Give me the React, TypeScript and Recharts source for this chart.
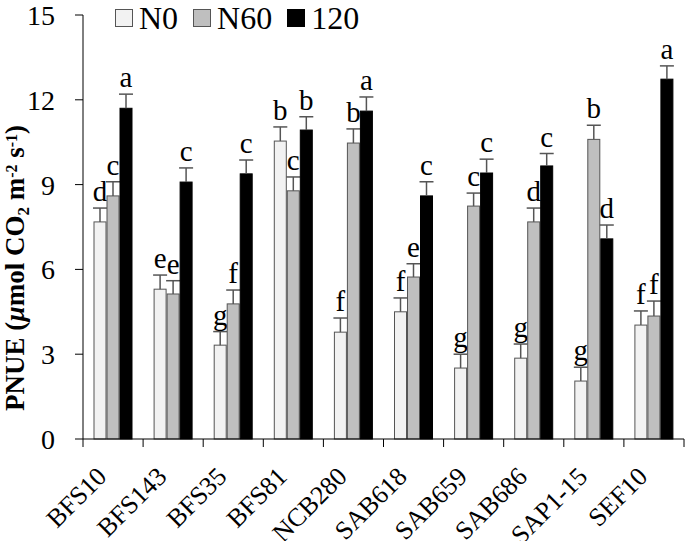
import { BarChart, Bar, XAxis, YAxis, Text } from "recharts";

const categories = ["BFS10", "BFS143", "BFS35", "BFS81", "NCB280", "SAB618", "SAB659", "SAB686", "SAP1-15", "SEF10"];

const n0 = [7.68, 5.3, 3.32, 10.54, 3.78, 4.5, 2.51, 2.86, 2.05, 4.03];
const n60 = [8.6, 5.13, 4.78, 8.78, 10.47, 5.73, 8.24, 7.68, 10.6, 4.35];
const n120 = [11.7, 9.09, 9.38, 10.93, 11.6, 8.6, 9.41, 9.66, 7.08, 12.73];

const n0Err = [0.49, 0.5, 0.48, 0.5, 0.5, 0.49, 0.49, 0.5, 0.49, 0.5];
const n60Err = [0.5, 0.47, 0.49, 0.49, 0.5, 0.47, 0.46, 0.49, 0.5, 0.53];
const n120Err = [0.5, 0.5, 0.49, 0.47, 0.5, 0.5, 0.49, 0.44, 0.49, 0.47];

const n0Letters = ["d", "e", "g", "b", "f", "f", "g", "g", "g", "f"];
const n60Letters = ["c", "e", "f", "c", "b", "e", "c", "d", "b", "f"];
const n120Letters = ["a", "c", "c", "b", "a", "c", "c", "c", "d", "a"];

const yTicks = [0, 3, 6, 9, 12, 15];

const data = categories.map((name, i) => ({
  name,
  n0: n0[i],
  n60: n60[i],
  n120: n120[i],
  n0Err: n0Err[i],
  n60Err: n60Err[i],
  n120Err: n120Err[i],
  n0L: n0Letters[i],
  n60L: n60Letters[i],
  n120L: n120Letters[i],
}));

const FONT = "Liberation Serif, Times New Roman, serif";
const W = 685;
const H = 541;
const LEFT = 83;
const RIGHT = 1;
const TOP = 15;
const BOTTOM = 102;
const BAND = (W - LEFT - RIGHT) / categories.length;
const AXIS_Y = H - BOTTOM;

const series = [
  { key: "n0", name: "N0", fill: "#f2f2f2", stroke: "#555" },
  { key: "n60", name: "N60", fill: "#bfbfbf", stroke: "#555" },
  { key: "n120", name: "120", fill: "#000", stroke: "#000" },
];

const makeShape = (valKey: string, fill: string, stroke: string) => (props: any) => {
  const { x, y, width, height, payload } = props;
  const v = payload[valKey];
  const k = v ? height / v : 0;
  const top = y - payload[valKey + "Err"] * k;
  const cx = x + width / 2;
  return (
    <g>
      <rect x={x} y={y} width={width} height={height} fill={fill} stroke={stroke} strokeWidth={1} />
      <line x1={cx} x2={cx} y1={y} y2={top} stroke="#555" strokeWidth={1.5} />
      <line x1={cx - 7} x2={cx + 7} y1={top} y2={top} stroke="#555" strokeWidth={1.5} />
      <text x={cx} y={top - 7} textAnchor="middle" fontSize={29} fontFamily={FONT} fill="#000">
        {payload[valKey + "L"]}
      </text>
    </g>
  );
};

const XTick = (props: any) => {
  const { x, payload, index } = props;
  const last = index === categories.length - 1;
  return (
    <g>
      <line x1={x - BAND / 2} x2={x - BAND / 2} y1={AXIS_Y} y2={AXIS_Y + 8} stroke="#000" strokeWidth={1} />
      {last && <line x1={x + BAND / 2} x2={x + BAND / 2} y1={AXIS_Y} y2={AXIS_Y + 8} stroke="#000" strokeWidth={1} />}
      <Text
        x={x - 5}
        y={AXIS_Y + 39}
        angle={-45}
        textAnchor="end"
        verticalAnchor="end"
        fontSize={26}
        fontFamily={FONT}
        fill="#000"
      >
        {payload.value}
      </Text>
    </g>
  );
};

const YLabel = () => {
  const cx = 24;
  const cy = 268;
  return (
    <text
      x={cx}
      y={cy}
      textAnchor="middle"
      fontSize={27}
      fontWeight="bold"
      fontFamily={FONT}
      fill="#000"
      transform={`rotate(-90, ${cx}, ${cy})`}
    >
      <tspan>PNUE (</tspan>
      <tspan fontStyle="italic">µ</tspan>
      <tspan>mol CO</tspan>
      <tspan fontSize={17} dy={5}>2</tspan>
      <tspan dy={-5}> m</tspan>
      <tspan fontSize={16} dy={-7}>-2</tspan>
      <tspan dy={7}> s</tspan>
      <tspan fontSize={16} dy={-7}>-1</tspan>
      <tspan dy={7}>)</tspan>
    </text>
  );
};

export default function App() {
  return (
    <div style={{ position: "absolute", left: 0, top: 0, width: W, height: H, background: "#fff" }}>
      <BarChart
        width={W}
        height={H}
        data={data}
        margin={{ top: TOP, right: RIGHT, bottom: 0, left: 0 }}
        barSize={12}
        barGap={1}
      >
        <XAxis
          dataKey="name"
          interval={0}
          axisLine={{ stroke: "#000" }}
          tickLine={false}
          tick={<XTick />}
          height={BOTTOM}
        />
        <YAxis
          width={LEFT}
          domain={[0, 15]}
          ticks={yTicks}
          interval={0}
          axisLine={{ stroke: "#000" }}
          tickLine={{ stroke: "#000" }}
          tickSize={8}
          tickMargin={20}
          tick={{ fontSize: 28, fontFamily: FONT, fill: "#000" }}
          label={{ content: <YLabel /> }}
        />
        {series.map((s) => (
          <Bar
            key={s.key}
            dataKey={s.key}
            name={s.name}
            fill={s.fill}
            isAnimationActive={false}
            shape={makeShape(s.key, s.fill, s.stroke)}
          />
        ))}
      </BarChart>
      <div
        style={{
          position: "absolute",
          left: 115,
          top: 0,
          display: "flex",
          alignItems: "center",
          fontFamily: FONT,
          fontSize: 32,
          lineHeight: "36px",
          color: "#000",
        }}
      >
        {series.map((s) => (
          <div key={s.key} style={{ display: "flex", alignItems: "center", marginRight: 15 }}>
            <span
              style={{
                display: "inline-block",
                width: 16,
                height: 16,
                background: s.fill,
                border: `1px solid ${s.stroke}`,
                marginRight: 6,
              }}
            />
            <span>{s.name}</span>
          </div>
        ))}
      </div>
    </div>
  );
}
